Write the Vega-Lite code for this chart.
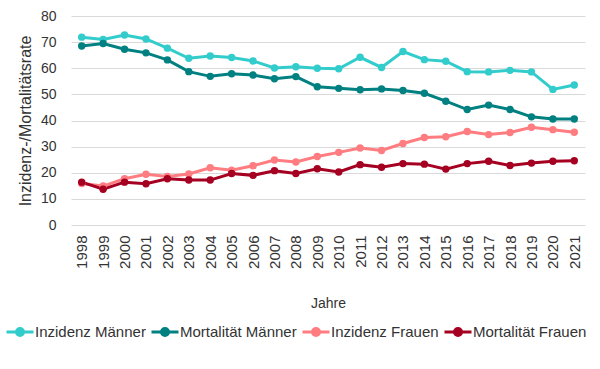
{
  "$schema": "https://vega.github.io/schema/vega-lite/v6.json",
  "width": 514,
  "height": 209,
  "autosize": "none",
  "padding": {"left": 71, "top": 16, "right": 15, "bottom": 144},
  "background": "white",
  "config": {"view": {"stroke": null}, "font": "Liberation Sans"},
  "data": {"values": [
    {"Jahr": "1998", "Reihe": "Inzidenz Männer", "Wert": 71.9},
    {"Jahr": "1999", "Reihe": "Inzidenz Männer", "Wert": 71.0},
    {"Jahr": "2000", "Reihe": "Inzidenz Männer", "Wert": 72.7},
    {"Jahr": "2001", "Reihe": "Inzidenz Männer", "Wert": 71.2},
    {"Jahr": "2002", "Reihe": "Inzidenz Männer", "Wert": 67.7},
    {"Jahr": "2003", "Reihe": "Inzidenz Männer", "Wert": 63.8},
    {"Jahr": "2004", "Reihe": "Inzidenz Männer", "Wert": 64.7},
    {"Jahr": "2005", "Reihe": "Inzidenz Männer", "Wert": 64.1},
    {"Jahr": "2006", "Reihe": "Inzidenz Männer", "Wert": 62.8},
    {"Jahr": "2007", "Reihe": "Inzidenz Männer", "Wert": 60.1},
    {"Jahr": "2008", "Reihe": "Inzidenz Männer", "Wert": 60.6},
    {"Jahr": "2009", "Reihe": "Inzidenz Männer", "Wert": 60.0},
    {"Jahr": "2010", "Reihe": "Inzidenz Männer", "Wert": 59.8},
    {"Jahr": "2011", "Reihe": "Inzidenz Männer", "Wert": 64.2},
    {"Jahr": "2012", "Reihe": "Inzidenz Männer", "Wert": 60.3},
    {"Jahr": "2013", "Reihe": "Inzidenz Männer", "Wert": 66.4},
    {"Jahr": "2014", "Reihe": "Inzidenz Männer", "Wert": 63.3},
    {"Jahr": "2015", "Reihe": "Inzidenz Männer", "Wert": 62.7},
    {"Jahr": "2016", "Reihe": "Inzidenz Männer", "Wert": 58.7},
    {"Jahr": "2017", "Reihe": "Inzidenz Männer", "Wert": 58.6},
    {"Jahr": "2018", "Reihe": "Inzidenz Männer", "Wert": 59.2},
    {"Jahr": "2019", "Reihe": "Inzidenz Männer", "Wert": 58.6},
    {"Jahr": "2020", "Reihe": "Inzidenz Männer", "Wert": 51.9},
    {"Jahr": "2021", "Reihe": "Inzidenz Männer", "Wert": 53.6},
    {"Jahr": "1998", "Reihe": "Mortalität Männer", "Wert": 68.5},
    {"Jahr": "1999", "Reihe": "Mortalität Männer", "Wert": 69.5},
    {"Jahr": "2000", "Reihe": "Mortalität Männer", "Wert": 67.3},
    {"Jahr": "2001", "Reihe": "Mortalität Männer", "Wert": 65.9},
    {"Jahr": "2002", "Reihe": "Mortalität Männer", "Wert": 63.2},
    {"Jahr": "2003", "Reihe": "Mortalität Männer", "Wert": 58.7},
    {"Jahr": "2004", "Reihe": "Mortalität Männer", "Wert": 56.9},
    {"Jahr": "2005", "Reihe": "Mortalität Männer", "Wert": 57.9},
    {"Jahr": "2006", "Reihe": "Mortalität Männer", "Wert": 57.4},
    {"Jahr": "2007", "Reihe": "Mortalität Männer", "Wert": 56.0},
    {"Jahr": "2008", "Reihe": "Mortalität Männer", "Wert": 56.8},
    {"Jahr": "2009", "Reihe": "Mortalität Männer", "Wert": 52.9},
    {"Jahr": "2010", "Reihe": "Mortalität Männer", "Wert": 52.3},
    {"Jahr": "2011", "Reihe": "Mortalität Männer", "Wert": 51.8},
    {"Jahr": "2012", "Reihe": "Mortalität Männer", "Wert": 52.1},
    {"Jahr": "2013", "Reihe": "Mortalität Männer", "Wert": 51.5},
    {"Jahr": "2014", "Reihe": "Mortalität Männer", "Wert": 50.4},
    {"Jahr": "2015", "Reihe": "Mortalität Männer", "Wert": 47.4},
    {"Jahr": "2016", "Reihe": "Mortalität Männer", "Wert": 44.2},
    {"Jahr": "2017", "Reihe": "Mortalität Männer", "Wert": 45.9},
    {"Jahr": "2018", "Reihe": "Mortalität Männer", "Wert": 44.2},
    {"Jahr": "2019", "Reihe": "Mortalität Männer", "Wert": 41.4},
    {"Jahr": "2020", "Reihe": "Mortalität Männer", "Wert": 40.6},
    {"Jahr": "2021", "Reihe": "Mortalität Männer", "Wert": 40.6},
    {"Jahr": "1998", "Reihe": "Inzidenz Frauen", "Wert": 15.9},
    {"Jahr": "1999", "Reihe": "Inzidenz Frauen", "Wert": 14.9},
    {"Jahr": "2000", "Reihe": "Inzidenz Frauen", "Wert": 17.7},
    {"Jahr": "2001", "Reihe": "Inzidenz Frauen", "Wert": 19.4},
    {"Jahr": "2002", "Reihe": "Inzidenz Frauen", "Wert": 18.6},
    {"Jahr": "2003", "Reihe": "Inzidenz Frauen", "Wert": 19.5},
    {"Jahr": "2004", "Reihe": "Inzidenz Frauen", "Wert": 21.9},
    {"Jahr": "2005", "Reihe": "Inzidenz Frauen", "Wert": 21.0},
    {"Jahr": "2006", "Reihe": "Inzidenz Frauen", "Wert": 22.7},
    {"Jahr": "2007", "Reihe": "Inzidenz Frauen", "Wert": 24.9},
    {"Jahr": "2008", "Reihe": "Inzidenz Frauen", "Wert": 24.1},
    {"Jahr": "2009", "Reihe": "Inzidenz Frauen", "Wert": 26.2},
    {"Jahr": "2010", "Reihe": "Inzidenz Frauen", "Wert": 27.8},
    {"Jahr": "2011", "Reihe": "Inzidenz Frauen", "Wert": 29.5},
    {"Jahr": "2012", "Reihe": "Inzidenz Frauen", "Wert": 28.5},
    {"Jahr": "2013", "Reihe": "Inzidenz Frauen", "Wert": 31.2},
    {"Jahr": "2014", "Reihe": "Inzidenz Frauen", "Wert": 33.5},
    {"Jahr": "2015", "Reihe": "Inzidenz Frauen", "Wert": 33.8},
    {"Jahr": "2016", "Reihe": "Inzidenz Frauen", "Wert": 35.8},
    {"Jahr": "2017", "Reihe": "Inzidenz Frauen", "Wert": 34.6},
    {"Jahr": "2018", "Reihe": "Inzidenz Frauen", "Wert": 35.4},
    {"Jahr": "2019", "Reihe": "Inzidenz Frauen", "Wert": 37.4},
    {"Jahr": "2020", "Reihe": "Inzidenz Frauen", "Wert": 36.5},
    {"Jahr": "2021", "Reihe": "Inzidenz Frauen", "Wert": 35.5},
    {"Jahr": "1998", "Reihe": "Mortalität Frauen", "Wert": 16.4},
    {"Jahr": "1999", "Reihe": "Mortalität Frauen", "Wert": 13.7},
    {"Jahr": "2000", "Reihe": "Mortalität Frauen", "Wert": 16.4},
    {"Jahr": "2001", "Reihe": "Mortalität Frauen", "Wert": 15.8},
    {"Jahr": "2002", "Reihe": "Mortalität Frauen", "Wert": 17.7},
    {"Jahr": "2003", "Reihe": "Mortalität Frauen", "Wert": 17.2},
    {"Jahr": "2004", "Reihe": "Mortalität Frauen", "Wert": 17.2},
    {"Jahr": "2005", "Reihe": "Mortalität Frauen", "Wert": 19.7},
    {"Jahr": "2006", "Reihe": "Mortalität Frauen", "Wert": 19.0},
    {"Jahr": "2007", "Reihe": "Mortalität Frauen", "Wert": 20.8},
    {"Jahr": "2008", "Reihe": "Mortalität Frauen", "Wert": 19.7},
    {"Jahr": "2009", "Reihe": "Mortalität Frauen", "Wert": 21.5},
    {"Jahr": "2010", "Reihe": "Mortalität Frauen", "Wert": 20.3},
    {"Jahr": "2011", "Reihe": "Mortalität Frauen", "Wert": 23.1},
    {"Jahr": "2012", "Reihe": "Mortalität Frauen", "Wert": 22.1},
    {"Jahr": "2013", "Reihe": "Mortalität Frauen", "Wert": 23.5},
    {"Jahr": "2014", "Reihe": "Mortalität Frauen", "Wert": 23.3},
    {"Jahr": "2015", "Reihe": "Mortalität Frauen", "Wert": 21.4},
    {"Jahr": "2016", "Reihe": "Mortalität Frauen", "Wert": 23.5},
    {"Jahr": "2017", "Reihe": "Mortalität Frauen", "Wert": 24.4},
    {"Jahr": "2018", "Reihe": "Mortalität Frauen", "Wert": 22.8},
    {"Jahr": "2019", "Reihe": "Mortalität Frauen", "Wert": 23.7},
    {"Jahr": "2020", "Reihe": "Mortalität Frauen", "Wert": 24.4},
    {"Jahr": "2021", "Reihe": "Mortalität Frauen", "Wert": 24.6}
  ]},
  "mark": {"type": "line", "strokeWidth": 3, "point": {"filled": true, "size": 55, "opacity": 1}},
  "encoding": {
    "x": {
      "field": "Jahr", "type": "ordinal",
      "scale": {"type": "point", "padding": 0.5},
      "axis": {"title": "Jahre", "labelAngle": -90, "labelFontSize": 15, "ticks": false, "domain": false,
               "labelPadding": 10, "titlePadding": 28, "titleFontSize": 14, "titleFontWeight": "normal",
               "labelColor": "#333333", "titleColor": "#333333", "grid": false}
    },
    "y": {
      "field": "Wert", "type": "quantitative",
      "scale": {"domain": [0, 80]},
      "axis": {"title": "Inzidenz-/Mortalitätsrate", "values": [0, 10, 20, 30, 40, 50, 60, 70, 80],
               "ticks": false, "domain": false, "labelPadding": 15, "labelFontSize": 14,
               "gridColor": "#d9d9d9", "gridWidth": 1, "titleFontSize": 16, "titleFontWeight": "normal",
               "titlePadding": 7, "labelColor": "#333333", "titleColor": "#333333"}
    },
    "color": {
      "field": "Reihe", "type": "nominal",
      "scale": {"domain": ["Inzidenz Männer", "Mortalität Männer", "Inzidenz Frauen", "Mortalität Frauen"],
                "range": ["#33CCCC", "#008080", "#FF7C80", "#A50021"]},
      "legend": {"title": null, "orient": "none", "direction": "horizontal", "legendX": -66, "legendY": 301,
                 "gridAlign": "none", "columns": 4,
                 "symbolType": "M-1,0H1M-0.26,0A0.26,0.26,0,1,0,0.26,0A0.26,0.26,0,1,0,-0.26,0Z",
                 "symbolSize": 729, "symbolStrokeWidth": 3, "symbolOpacity": 1,
                 "labelFontSize": 15, "labelColor": "#333333", "labelOffset": 0, "columnPadding": -1,
                 "labelLimit": 300}
    }
  }
}
